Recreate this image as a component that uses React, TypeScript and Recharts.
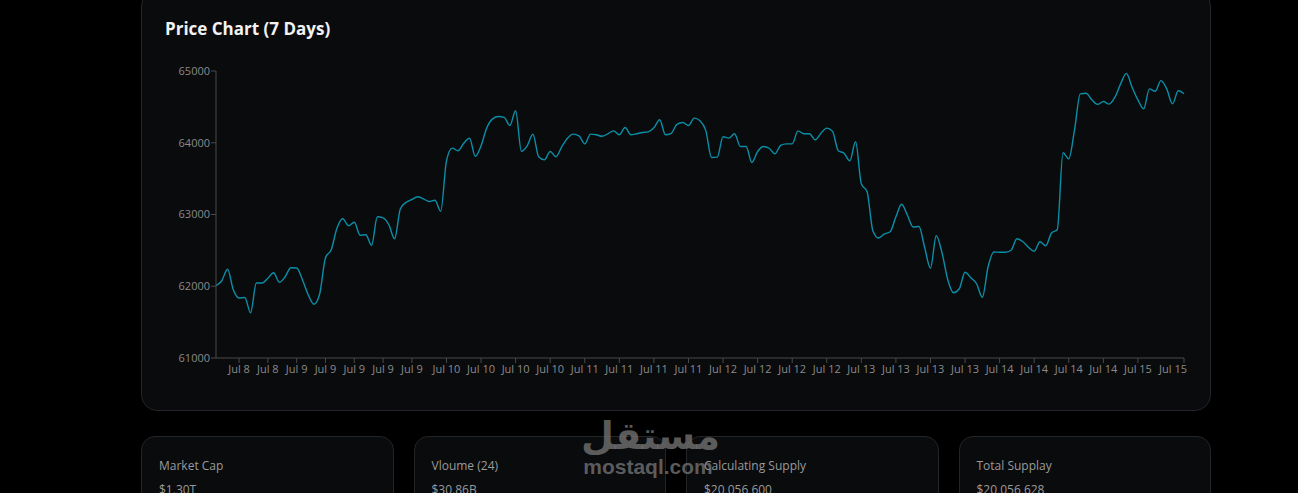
import React from "react";
import { LineChart, Line, XAxis, YAxis } from "recharts";

// Hourly BTC price, Jul 8 12:00 -> Jul 15 12:00 (169 points)
const prices: number[] = [
  62010, 62077, 62237, 61951, 61836, 61844, 61631, 62045, 62045, 62112,
  62188, 62056, 62133, 62258, 62255, 62091, 61882, 61749, 61896, 62397,
  62509, 62811, 62940, 62843, 62892, 62711, 62718, 62571, 62968, 62954,
  62857, 62662, 63080, 63170, 63209, 63247, 63219, 63181, 63198, 63045,
  63748, 63925, 63888, 63992, 64062, 63811, 63957, 64208, 64333, 64365,
  64354, 64240, 64445, 63881, 63957, 64118, 63804, 63762, 63878, 63804,
  63943, 64062, 64120, 64097, 63985, 64120, 64111, 64090, 64125, 64166,
  64111, 64212, 64111, 64125, 64143, 64152, 64208, 64320, 64111, 64131,
  64257, 64282, 64240, 64343, 64306, 64173, 63794, 63800, 64083, 64065,
  64125, 63948, 63948, 63725, 63878, 63948, 63923, 63846, 63964, 63985,
  63985, 64166, 64125, 64125, 64041, 64134, 64204, 64159, 63888, 63853,
  63748, 64013, 63428, 63317, 62773, 62672, 62729, 62759, 62968, 63142,
  62989, 62825, 62833, 62536, 62251, 62704, 62467, 62091, 61910, 61965,
  62195, 62119, 62035, 61847, 62272, 62477, 62474, 62474, 62502, 62662,
  62624, 62543, 62488, 62620, 62564, 62741, 62787, 63860, 63776, 64180,
  64682, 64689, 64598, 64535, 64574, 64538, 64633, 64821, 64967, 64772,
  64598, 64473, 64751, 64717, 64866, 64751, 64542, 64724, 64682,
];

const dayLabels: string[] = ["Jul 8", "Jul 9", "Jul 10", "Jul 11", "Jul 12", "Jul 13", "Jul 14", "Jul 15"];
const dayStartIndex: number[] = [0, 12, 36, 60, 84, 108, 132, 156];
const tickIndex: number[] = [
  4, 9, 14, 19, 24, 29, 34, 40, 46, 52, 58, 64, 70, 76, 82, 88, 94, 100, 106,
  112, 118, 124, 130, 136, 142, 148, 154, 160, 168,
];
const yTicks: number[] = [61000, 62000, 63000, 64000, 65000];

const statLabels: string[] = ["Market Cap", "Vloume (24)", "Calculating Supply", "Total Supplay"];
const statValues: string[] = ["$1.30T", "$30.86B", "$20,056,600", "$20,056,628"];

const data = prices.map((price, i) => ({ i, price }));

const dayOf = (i: number) => {
  let d = 0;
  for (let k = 0; k < dayStartIndex.length; k++) if (i >= dayStartIndex[k]) d = k;
  return dayLabels[d];
};

const FONT = "'Open Sans', 'Noto Sans', 'DejaVu Sans', sans-serif";

const XTick = (props: any) => {
  const { x, y, payload } = props;
  const last = payload.value === prices.length - 1;
  return (
    <text
      x={last ? x + 3 : x}
      y={y}
      dy="0.71em"
      textAnchor={last ? "end" : "middle"}
      fill="#8a8a8a"
      fontSize={11}
    >
      {dayOf(payload.value)}
    </text>
  );
};

export default function App() {
  return (
    <div
      style={{
        position: "fixed",
        left: 0,
        top: 0,
        width: 1298,
        height: 493,
        background: "#000",
        overflow: "hidden",
        fontFamily: FONT,
      }}
    >
      <div
        style={{
          position: "absolute",
          left: 141,
          top: -10,
          width: 1068,
          height: 419,
          background: "#0a0b0d",
          border: "1px solid #232428",
          borderRadius: 16,
        }}
      />
      <div
        style={{
          position: "absolute",
          left: 165,
          top: 17,
          color: "#f2f2f2",
          fontWeight: 700,
          fontSize: 17,
          whiteSpace: "nowrap",
        }}
      >
        Price Chart (7 Days)
      </div>
      <div style={{ position: "absolute", left: 150, top: 60 }}>
        <LineChart
          width={1050}
          height={328}
          data={data}
          margin={{ top: 11, right: 16, left: 0, bottom: 0 }}
        >
          <XAxis
            dataKey="i"
            type="category"
            ticks={tickIndex}
            interval={0}
            height={30}
            tick={<XTick />}
            tickSize={5}
            tickMargin={2}
            stroke="#4a4a4a"
          />
          <YAxis
            width={66}
            domain={[61000, 65000]}
            ticks={yTicks}
            tickSize={5}
            tickMargin={1}
            stroke="#4a4a4a"
            tick={{ fill: "#8a8a8a", fontSize: 11 }}
          />
          <Line
            type="monotone"
            dataKey="price"
            stroke="#0b8fa8"
            strokeWidth={1.4}
            dot={false}
            isAnimationActive={false}
          />
        </LineChart>
      </div>
      {statLabels.map((label, k) => (
        <div
          key={label}
          style={{
            position: "absolute",
            left: 141 + k * 272.5,
            top: 436,
            width: 250.5,
            height: 80,
            background: "#0a0b0d",
            border: "1px solid #232428",
            borderRadius: 14,
          }}
        >
          <div style={{ position: "absolute", left: 17, top: 20, fontSize: 12, color: "#9a9a9a" }}>{label}</div>
          <div style={{ position: "absolute", left: 17, top: 44, fontSize: 12, color: "#9a9a9a" }}>{statValues[k]}</div>
        </div>
      ))}
      <div
        style={{
          position: "absolute",
          left: 581,
          top: 414,
          width: 132,
          textAlign: "center",
          color: "rgba(120,120,120,0.75)",
          fontFamily: "'DejaVu Sans', sans-serif",
          fontWeight: 700,
          fontSize: 38,
          lineHeight: "44px",
        }}
      >
        مستقل
      </div>
      <div
        style={{
          position: "absolute",
          left: 579,
          top: 455,
          width: 138,
          textAlign: "center",
          color: "rgba(120,120,120,0.75)",
          fontFamily: "'Liberation Sans', sans-serif",
          fontWeight: 700,
          fontSize: 21,
          lineHeight: "24px",
        }}
      >
        mostaql.com
      </div>
    </div>
  );
}
